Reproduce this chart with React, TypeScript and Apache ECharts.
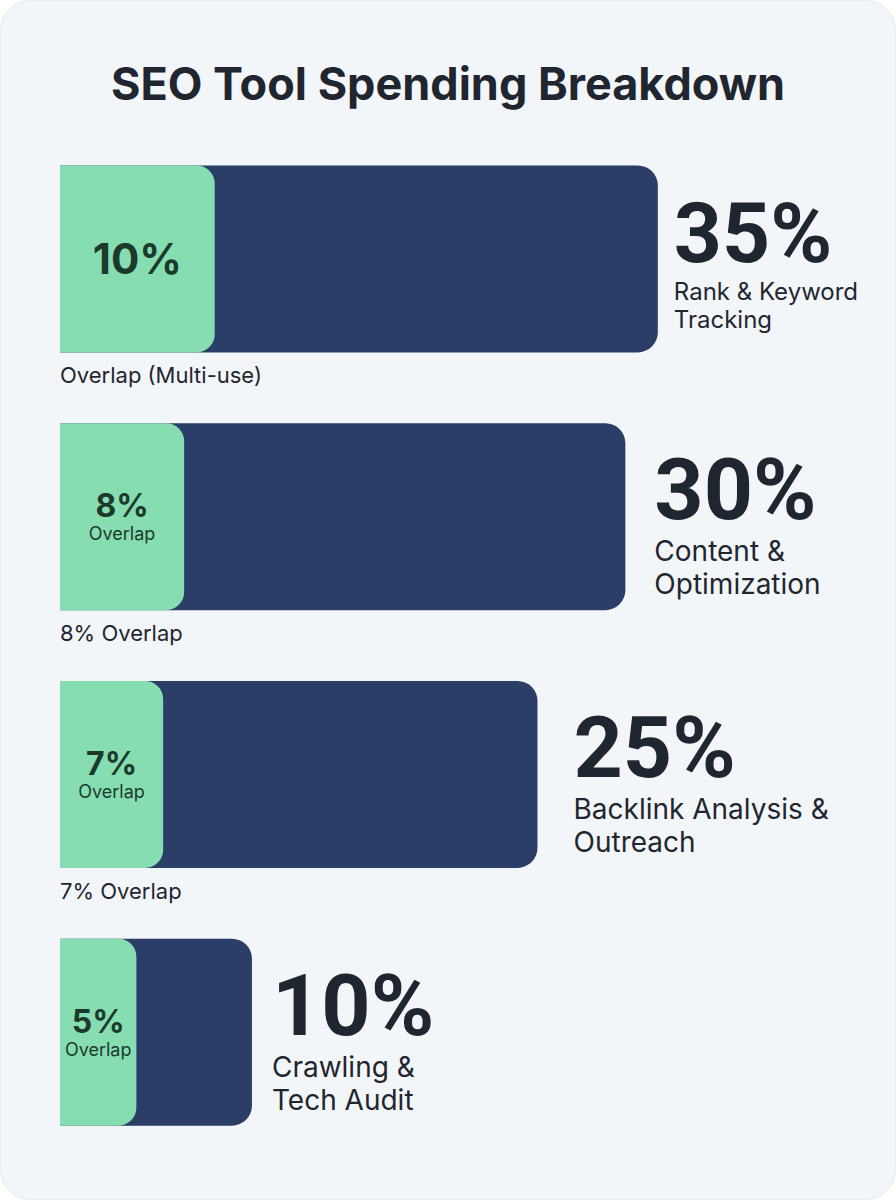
import React, { useEffect, useRef } from "react";
import * as echarts from "echarts";

// ---- data ----
const categories = [
  "Rank & Keyword Tracking",
  "Content & Optimization",
  "Backlink Analysis & Outreach",
  "Crawling & Tech Audit",
];
const nameLines = [
  ["Rank & Keyword", "Tracking"],
  ["Content &", "Optimization"],
  ["Backlink Analysis &", "Outreach"],
  ["Crawling &", "Tech Audit"],
];
const shares = [35, 30, 25, 10];
const overlaps = [10, 8, 7, 5];
// drawn lengths of the bars as they appear in the picture (axis units)
const barExtent = [31.3, 29.6, 25.0, 10.05];
const overlapExtent = [8.1, 6.5, 5.4, 4.0];
const belowLabels = ["Overlap (Multi-use)", "8% Overlap", "7% Overlap", ""];

const TEXT = "#1f2630";
const FONT = "Inter";
const BIG_FONT = "Roboto";

export default function App() {
  const ref = useRef<HTMLDivElement>(null);

  useEffect(() => {
    if (!ref.current) return;
    const chart = echarts.init(ref.current, undefined, { renderer: "svg" });
    const distances = [16, 29, 36, 20];

    chart.setOption({
      animation: false,
      backgroundColor: "transparent",
      textStyle: { fontFamily: FONT },
      title: {
        text: "SEO Tool Spending Breakdown",
        left: "center",
        top: 56,
        textStyle: { fontSize: 45, fontWeight: 700, color: TEXT, fontFamily: FONT },
      },
      grid: { left: 60, width: 764, top: 130, height: 1031 },
      xAxis: { type: "value", min: 0, max: 40, show: false },
      yAxis: {
        type: "category",
        data: categories,
        inverse: true,
        show: false,
      },
      series: [
        {
          type: "bar",
          barWidth: 187,
          barGap: "-100%",
          itemStyle: { color: "#2b3e68", borderRadius: [0, 20, 20, 0] },
          data: barExtent.map((v, i) => ({
            value: v,
            label: { distance: distances[i], offset: [0, i === 0 ? 3 : 6] },
          })),
          label: {
            show: true,
            position: "right",
            align: "left",
            formatter: (p: any) => {
              const i = p.dataIndex;
              const big = i === 0 ? "b1" : "b2";
              const nm = i === 0 ? "n1" : "n2";
              return `{${big}|${shares[i]}%}\n{${nm}|${nameLines[i][0]}}\n{${nm}|${nameLines[i][1]}}`;
            },
            rich: {
              b1: { fontSize: 84, fontWeight: 700, lineHeight: 88, color: TEXT, fontFamily: BIG_FONT },
              b2: { fontSize: 86, fontWeight: 700, lineHeight: 90, color: TEXT, fontFamily: BIG_FONT },
              n1: { fontSize: 24, lineHeight: 28, color: TEXT, fontFamily: FONT },
              n2: { fontSize: 28, lineHeight: 33, color: TEXT, fontFamily: FONT },
            },
          },
        },
        {
          type: "bar",
          barWidth: 187,
          barGap: "-100%",
          itemStyle: { color: "#86ddb1", borderRadius: [0, 18, 18, 0] },
          data: overlapExtent,
          label: {
            show: true,
            position: "inside",
            formatter: (p: any) => {
              const i = p.dataIndex;
              if (i === 0) return `{a|${overlaps[i]}%}`;
              return `{p|${overlaps[i]}%}\n{o|Overlap}`;
            },
            rich: {
              a: { fontSize: 42, fontWeight: 700, lineHeight: 50, color: "#1c3a2c", fontFamily: FONT },
              p: { fontSize: 32, fontWeight: 700, lineHeight: 34, color: "#1c3a2c", fontFamily: FONT },
              o: { fontSize: 18, lineHeight: 22, color: "#1c3a2c", fontFamily: FONT },
            },
          },
        },
        {
          type: "bar",
          barWidth: 187,
          barGap: "-100%",
          silent: true,
          itemStyle: { color: "rgba(0,0,0,0)" },
          data: barExtent,
          label: {
            show: true,
            position: ["0%", "100%"],
            offset: [0, 12],
            align: "left",
            verticalAlign: "top",
            fontSize: 22,
            lineHeight: 22,
            color: TEXT,
            fontFamily: FONT,
            formatter: (p: any) => belowLabels[p.dataIndex],
          },
        },
      ],
    });

    return () => chart.dispose();
  }, []);

  return (
    <div
      style={{
        position: "absolute",
        left: 0,
        top: 0,
        width: 896,
        height: 1200,
        background: "#ffffff",
      }}
    >
      <div
        style={{
          position: "absolute",
          left: 0,
          top: 0,
          width: 896,
          height: 1200,
          background: "#f3f6f9",
          borderRadius: 30,
          border: "1px solid #e7ebf0",
          boxSizing: "border-box",
        }}
      />
      <div ref={ref} style={{ position: "absolute", left: 0, top: 0, width: 896, height: 1200 }} />
    </div>
  );
}
